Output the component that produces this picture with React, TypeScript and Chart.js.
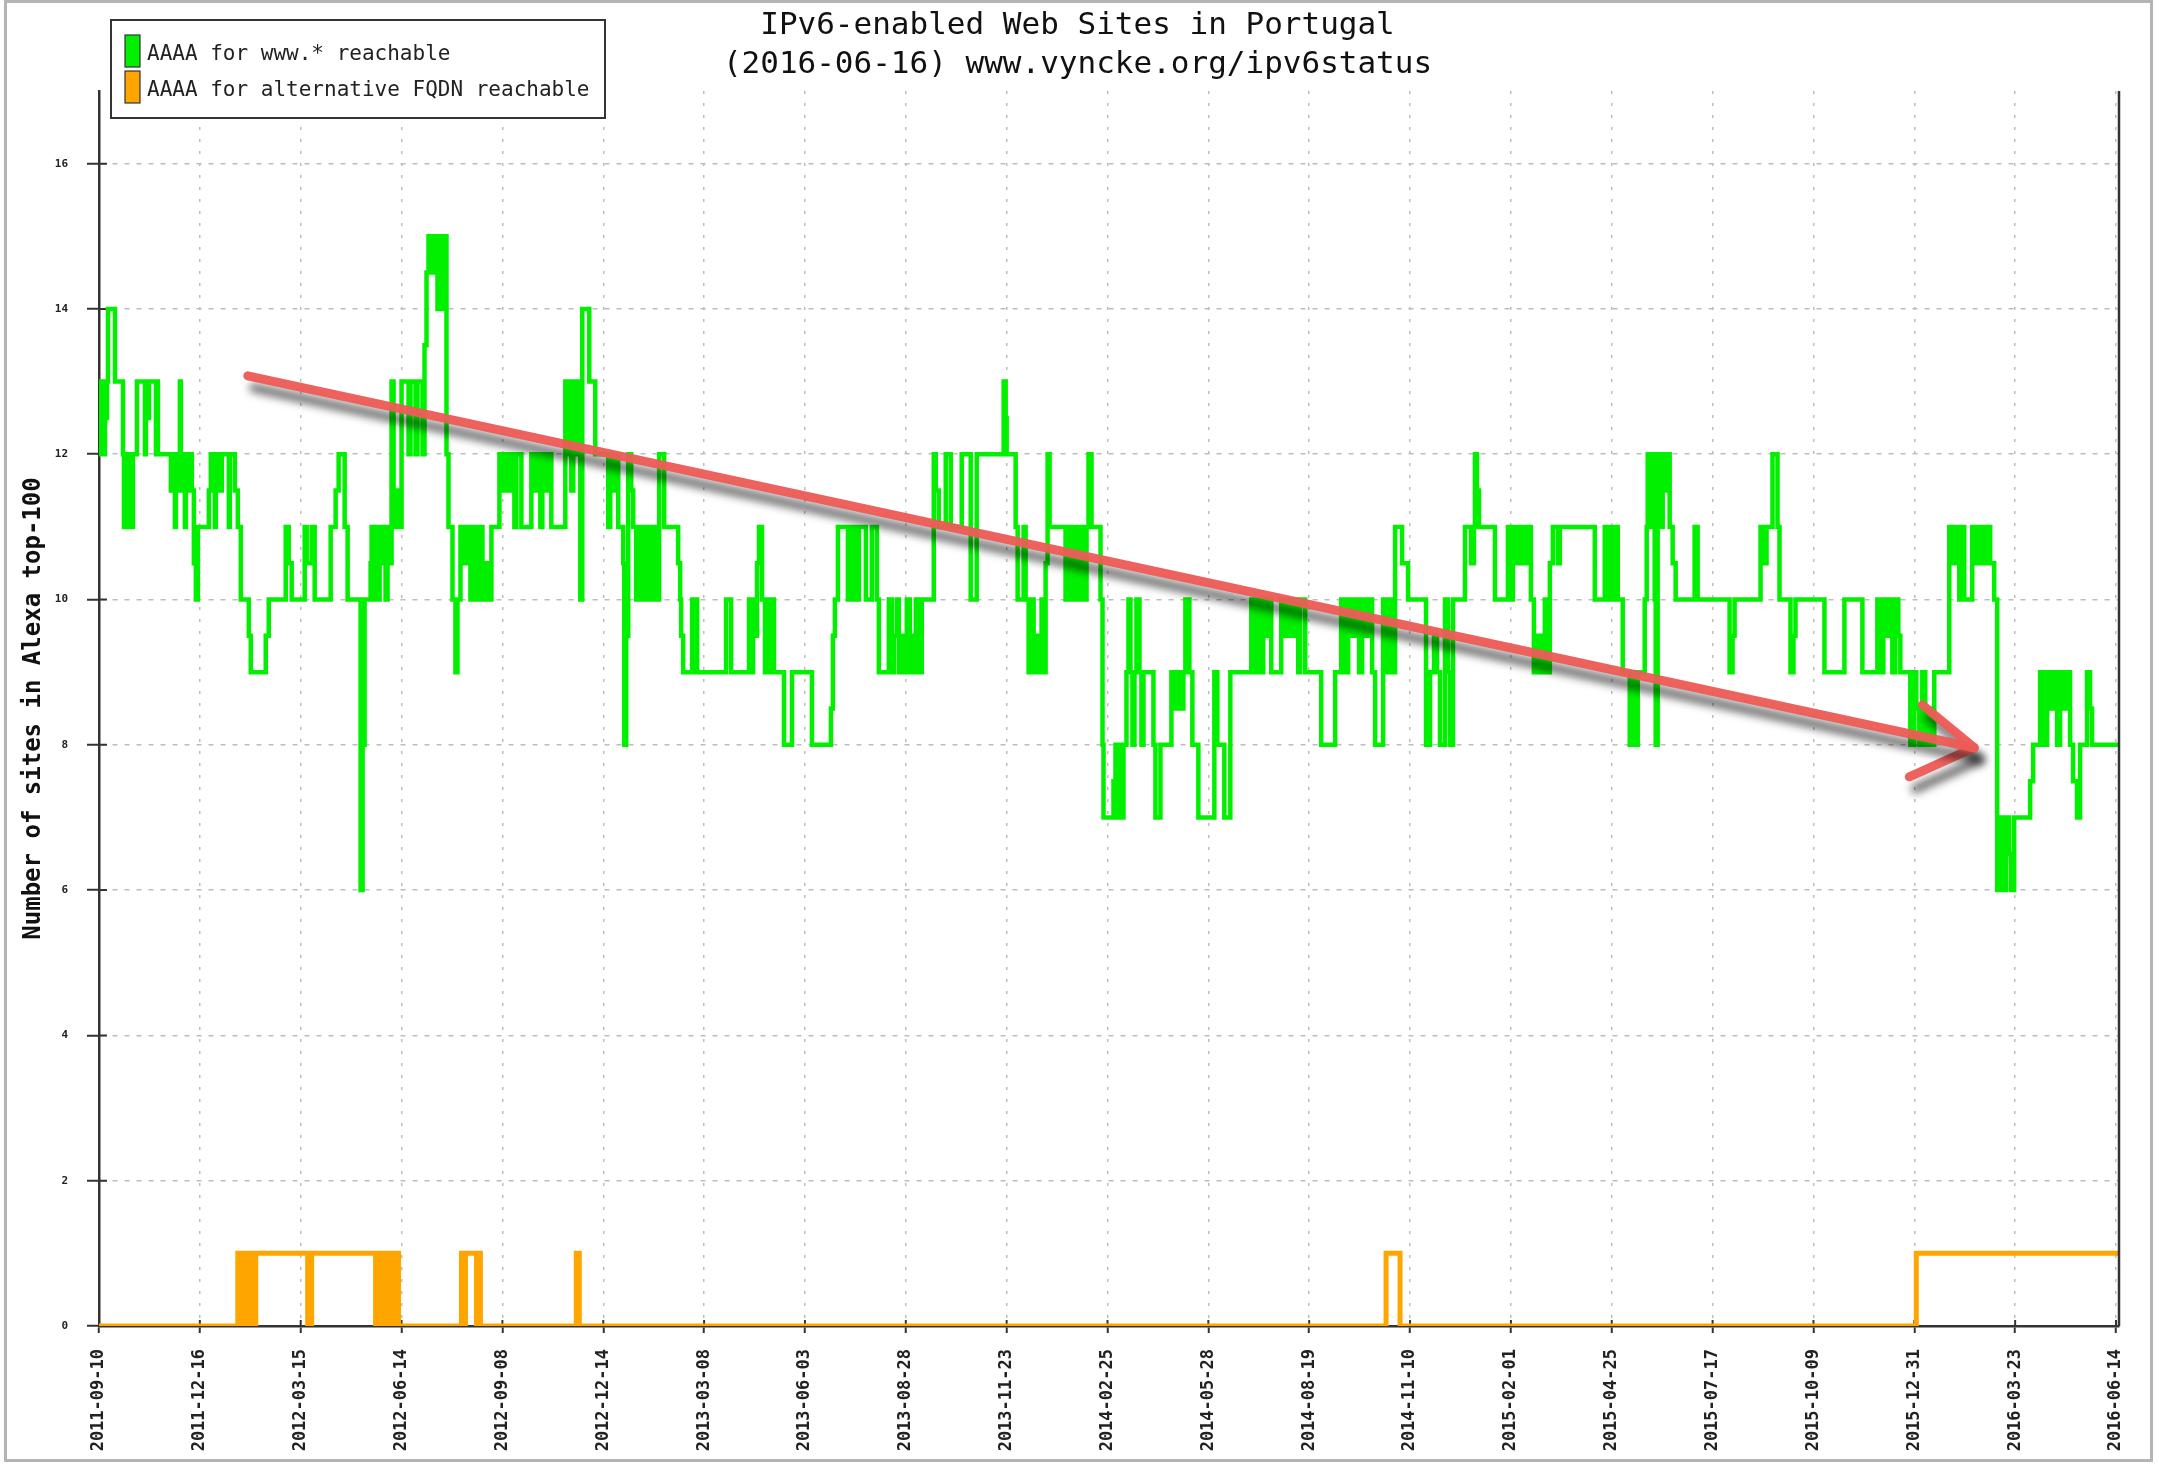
import React, { useEffect, useRef } from 'react';
import { Chart, registerables } from 'chart.js';

Chart.register(...registerables);

const TITLE_LINES = ['IPv6-enabled Web Sites in Portugal', '(2016-06-16) www.vyncke.org/ipv6status'];
const Y_TITLE = 'Number of sites in Alexa top-100';
const SERIES_LABELS = ['AAAA for www.* reachable', 'AAAA for alternative FQDN reachable'];

const X_TICK_LABELS = [
  '2011-09-10', '2011-12-16', '2012-03-15', '2012-06-14', '2012-09-08', '2012-12-14',
  '2013-03-08', '2013-06-03', '2013-08-28', '2013-11-23', '2014-02-25', '2014-05-28',
  '2014-08-19', '2014-11-10', '2015-02-01', '2015-04-25', '2015-07-17', '2015-10-09',
  '2015-12-31', '2016-03-23', '2016-06-14',
];
const Y_TICK_VALUES = [0, 2, 4, 6, 8, 10, 12, 14, 16];
const SAMPLES_PER_TICK = 101;
const X_MAX = 2023;
const Y_MAX = 17;

// [sample index, sites] step points (value holds until next point)
const WWW_POINTS: number[][] = [
  [0,12],[2,13],[4,12],[6,12.5],[8,13],[9,14],[16,13],[24,12],[25,11],[28,12],[32,11],[34,12],[38,13],[46,12],[47,13],[49,12.5],[50,13],[57,12],[58,13],[59,12],
  [72,11.5],[74,12],[76,11],[77,12],[79,11.5],[81,13],[82,12],[84,11.5],[86,11],[87,12],[89,11.5],[91,12],[93,11.5],[95,10.5],[97,10],[99,11],
  [110,11.5],[112,12],[116,11],[117,12],[121,11.5],[123,12],[130,11],[131,12],[136,11.5],[139,11],[142,10],[150,9.5],[152,9],[167,9.5],[170,10],
  [187,11],[190,10.5],[193,10],[206,11],[208,10.5],[213,11],[216,10],[232,11],[237,11.5],[240,12],[246,11],[249,10],[262,6],[264,8],[266,10],
  [272,10.5],[273,11],[275,10],[277,11],[279,10],[281,11],[283,10.5],[285,11],[287,10],[289,11],[291,10.5],[293,13],[295,11],[298,11.5],[300,11],
  [303,13],[310,12],[312,13],[317,12],[319,13],[324,12],[326,13.5],[328,14.5],[330,15],[334,14.5],[336,15],[339,14],[341,15],[344,14],[346,15],
  [348,12],[350,11],[354,10],[357,9],[359,10],[362,11],[366,10.5],[369,11],[372,10],[375,11],[378,10],[381,11],[384,10],[387,10.5],[390,10],[393,11],
  [401,12],[404,11.5],[407,12],[410,11.5],[413,12],[416,11],[418,12],[423,11],[433,12],[436,11.5],[439,12],[442,11],[444,12],[447,11.5],[450,12],[453,11],
  [467,13],[469,12],[471,13],[473,11.5],[475,13],[478,12],[480,13],[482,10],[484,14],[491,13],[497,12],[510,11],
  [512,12],[515,11.5],[518,12],[520,11],[525,10.5],[526,8],[528,9.5],[530,12],[533,11.5],[535,11],[538,10],[540,11],[543,10],[545,11],[548,10],[550,11],
  [553,10],[556,11],[559,10],[561,12],[566,11],[580,10.5],[582,10],[583,9.5],[585,9],[594,10],[596,9],[597,10],[599,9],[628,10],[633,9],
  [651,10],[653,9],[655,10],[657,9.5],[659,10.5],[661,11],[664,10],[667,9],[669,10],[672,9],[675,10],[676,9],[686,8],[694,9],[714,8],
  [733,8.5],[735,9.5],[737,10],[740,11],[750,10],[752,11],[755,10],[757,11],[759,10],[761,11],[768,10],[774,11],[779,10],[781,9],
  [791,10],[794,9],[796,9.5],[799,10],[801,9],[803,9.5],[806,9],[809,10],[812,9],[816,9.5],[818,10],[820,9],[824,10],
  [836,12],[838,11.5],[841,11],[848,12],[853,11],[864,12],[873,10],[879,12],[906,13],[908,12.5],[909,12],[918,11],[920,10],[926,11],[928,10],
  [931,9],[934,10],[936,9],[939,9.5],[941,9],[944,10],[946,9],[948,10.5],[950,12],[952,11],[968,10],[971,11],[974,10],[977,11],[980,10],
  [983,11],[986,10],[989,11],[991,12],[994,11],[1003,10],
  [1005,8],[1006,7],[1016,7.5],[1018,8],[1020,7],[1022,8],[1024,7],[1026,8],[1029,9],[1031,10],[1033,9],[1035,8],[1037,9],[1039,10],[1042,9],
  [1044,8],[1046,9],[1056,8],[1058,7],[1063,8],[1074,9],[1077,8.5],[1080,9],[1083,8.5],[1086,9],[1088,10],[1092,9],[1095,8],[1101,7],
  [1117,9],[1120,8],[1127,7],[1133,9],[1154,10],[1157,9],[1160,10],[1163,9],[1166,10],[1169,9.5],[1172,10],[1174,9],[1184,10],[1187,9.5],
  [1190,10],[1194,9.5],[1197,10],[1201,9],[1203,10],[1208,9],[1224,8],[1238,9],[1244,10],[1248,9],[1251,10],[1255,9.5],[1258,10],[1262,9],
  [1265,10],[1268,9.5],[1271,10],[1275,9],[1278,8],[1286,10],[1289,9],[1292,10],[1295,9],[1298,11],[1305,10.5],[1311,10],[1329,8],[1333,9],
  [1337,9.5],[1340,9],[1343,8],[1348,10],[1351,9],[1353,8],[1356,10],[1368,11],[1374,10.5],[1377,11],[1378,12],[1380,11.5],[1382,11],[1398,10],
  [1411,11],[1414,10],[1416,11],[1420,10.5],[1423,11],[1427,10.5],[1430,11],[1434,10],[1437,9],[1441,9.5],[1444,9],[1448,10],[1451,9],
  [1453,10.5],[1456,11],[1461,10.5],[1463,11],[1498,10],[1508,11],[1510,10],[1513,11],[1516,10],[1519,11],
  [1521,10],[1526,9],[1533,8],[1536,9],[1539,8],[1541,9],[1548,10],[1550,11],[1551,12],[1554,11],[1556,12],[1558,10],[1559,8],[1561,12],
  [1564,11],[1566,12],[1568,11.5],[1570,12],[1573,11],[1576,10.5],[1579,10],[1598,11],[1601,10],[1633,9],[1636,9.5],[1638,10],
  [1664,11],[1667,10.5],[1670,11],[1676,12],[1681,11],[1683,10],[1694,9],[1697,9.5],[1699,10],[1728,9],[1748,10],[1766,9],
  [1781,10],[1784,9],[1787,10],[1790,9.5],[1793,10],[1796,9],[1799,10],[1802,9.5],[1804,9],[1814,8],[1818,9],[1820,8.5],[1823,8],[1826,9],
  [1829,8],[1832,8.5],[1835,8],[1838,9],[1853,11],[1857,10.5],[1860,11],[1863,10],[1866,11],[1868,10],[1876,11],[1880,10.5],[1883,11],
  [1887,10.5],[1890,11],[1894,10.5],[1898,10],[1901,6],[1905,7],[1907,6],[1910,7],[1913,6.5],[1915,6],[1918,7],[1934,7.5],[1937,8],
  [1944,9],[1948,8],[1951,9],[1954,8.5],[1957,9],[1961,8],[1964,9],[1968,8.5],[1971,9],[1974,8],[1977,7.5],[1981,7],[1984,8],[1991,9],
  [1994,8.5],[1996,8],[2023,8],
];

const ALT_POINTS: number[][] = [
  [0,0],[139,1],[141,0],[144,1],[146,0],[149,1],[151,0],[154,1],[156,0],[157,1],[209,0],[213,1],
  [277,0],[279,1],[282,0],[285,1],[288,0],[291,1],[294,0],[297,1],[300,0],[363,1],[366,0],[367,1],[378,0],[380,1],[382,0],
  [478,1],[481,0],[1289,1],[1303,0],[1820,1],[2023,1],
];

// hand-drawn trend arrow (in data space)
const TREND_SHAFT: number[][] = [[149,13.08],[1878,7.96]];
const TREND_HEAD: number[][] = [[1826,8.55],[1878,7.96],[1813,7.56]];

const GREEN = '#00f000';
const ORANGE = '#ffa500';
const ARROW_RED = 'rgba(236,92,86,0.96)';
const MONO = '"DejaVu Sans Mono", monospace';

// value at x holds until the next x: convert to points where the step occurs at the new x
const toSteps = (pts: number[][]) => pts.map(([x, y]) => ({ x, y }));
const toXY = (pts: number[][]) => pts.map(([x, y]) => ({ x, y }));

const decor = {
  id: 'decor',
  beforeDraw(chart: any) {
    const { ctx, width, height } = chart;
    ctx.save();
    ctx.fillStyle = '#ffffff';
    ctx.fillRect(0, 0, width, height);
    ctx.strokeStyle = '#b4b4b4';
    ctx.lineWidth = 3;
    ctx.strokeRect(5.5, 1.5, width - 13, height - 6);
    ctx.restore();
  },
  beforeDatasetsDraw(chart: any) {
    const { ctx, chartArea: a, scales } = chart;
    ctx.save();
    ctx.strokeStyle = '#333';
    ctx.lineWidth = 2;
    ctx.beginPath();
    scales.y.ticks.forEach((t: any) => {
      const py = scales.y.getPixelForValue(t.value);
      ctx.moveTo(a.left, py);
      ctx.lineTo(a.left + 8, py);
    });
    scales.x.ticks.forEach((t: any) => {
      const px = scales.x.getPixelForValue(t.value);
      ctx.moveTo(px, a.bottom);
      ctx.lineTo(px, a.bottom - 6);
    });
    ctx.stroke();
    ctx.restore();
  },
  beforeDatasetDraw(chart: any, args: any) {
    const ds = chart.data.datasets[args.index];
    if (ds.isTrend) {
      const ctx = chart.ctx;
      ctx.save();
      ctx.shadowColor = 'rgba(0,0,0,0.6)';
      ctx.shadowBlur = 8;
      ctx.shadowOffsetX = 6;
      ctx.shadowOffsetY = 12;
    }
  },
  afterDatasetDraw(chart: any, args: any) {
    const ds = chart.data.datasets[args.index];
    if (ds.isTrend) chart.ctx.restore();
  },
  afterDraw(chart: any) {
    const { ctx, chartArea: a, width } = chart;
    ctx.save();
    // right frame line
    ctx.strokeStyle = '#333';
    ctx.lineWidth = 2.5;
    ctx.beginPath();
    ctx.moveTo(a.right, a.top);
    ctx.lineTo(a.right, a.bottom);
    ctx.stroke();
    // title
    ctx.fillStyle = '#111';
    ctx.font = '31px ' + MONO;
    ctx.textAlign = 'center';
    ctx.textBaseline = 'middle';
    ctx.fillText(TITLE_LINES[0], width / 2 - 2, 26);
    ctx.fillText(TITLE_LINES[1], width / 2 - 2, 65);
    // legend
    ctx.fillStyle = '#ffffff';
    ctx.fillRect(111, 20, 494, 98);
    ctx.strokeStyle = '#333';
    ctx.lineWidth = 2;
    ctx.strokeRect(111, 20, 494, 98);
    const entries = chart.data.datasets.filter((d: any) => !d.isTrend);
    entries.forEach((d: any, i: number) => {
      const sy = 35 + 36 * i;
      ctx.fillStyle = d.borderColor;
      ctx.fillRect(125, sy, 15, 32);
      ctx.strokeStyle = '#333';
      ctx.lineWidth = 1.2;
      ctx.strokeRect(125, sy, 15, 32);
      ctx.fillStyle = '#222';
      ctx.font = '21px ' + MONO;
      ctx.textAlign = 'left';
      ctx.textBaseline = 'middle';
      ctx.fillText(d.label, 147, sy + 20);
    });
    ctx.restore();
  },
};

export default function App() {
  const ref = useRef<HTMLCanvasElement>(null);
  useEffect(() => {
    document.body.style.margin = '0';
    const canvas = ref.current as HTMLCanvasElement;
    const chart = new Chart(canvas, {
      type: 'line',
      data: {
        datasets: [
          { label: 'trend', isTrend: true, data: toXY(TREND_SHAFT), borderColor: ARROW_RED, borderWidth: 9, pointRadius: 0, borderCapStyle: 'round', order: 0 } as any,
          { label: 'trend-head', isTrend: true, data: toXY(TREND_HEAD), borderColor: ARROW_RED, borderWidth: 9, pointRadius: 0, borderCapStyle: 'round', borderJoinStyle: 'round', order: 0 } as any,
          { label: SERIES_LABELS[0], data: toSteps(WWW_POINTS), stepped: 'before', borderColor: GREEN, borderWidth: 4.5, pointRadius: 0, borderJoinStyle: 'miter', order: 1 } as any,
          { label: SERIES_LABELS[1], data: toSteps(ALT_POINTS), stepped: 'before', borderColor: ORANGE, borderWidth: 5, pointRadius: 0, borderJoinStyle: 'miter', order: 2 } as any,
        ],
      },
      options: {
        animation: false,
        responsive: false,
        devicePixelRatio: 1,
        layout: { padding: { left: 0, right: 40, top: 91, bottom: 0 } },
        plugins: { legend: { display: false }, title: { display: false }, tooltip: { enabled: false } },
        scales: {
          x: {
            type: 'linear',
            min: 0,
            max: X_MAX,
            afterBuildTicks: (s: any) => { s.ticks = X_TICK_LABELS.map((_, i) => ({ value: i * SAMPLES_PER_TICK })); },
            afterFit: (s: any) => { s.height = 139; },
            ticks: {
              autoSkip: false,
              maxRotation: 90,
              minRotation: 90,
              padding: 16,
              color: '#222',
              font: { family: MONO, size: 17, weight: 'bold' },
              callback: (_v: any, i: number) => X_TICK_LABELS[i],
            },
            grid: { color: '#bdbdbd', lineWidth: 1.5, tickLength: 7, tickColor: '#333', tickWidth: 2 },
            border: { display: true, color: '#333', width: 2.5, dash: [3, 9] },
          },
          y: {
            type: 'linear',
            min: 0,
            max: Y_MAX,
            afterBuildTicks: (s: any) => { s.ticks = Y_TICK_VALUES.map((v) => ({ value: v })); },
            afterFit: (s: any) => { s.width = 99; },
            ticks: { padding: 19, color: '#222', font: { family: MONO, size: 11, weight: 'bold' } },
            grid: { color: '#bdbdbd', lineWidth: 1.5, tickLength: 12, tickColor: '#333', tickWidth: 2 },
            border: { display: true, color: '#333', width: 2.5, dash: [5, 7] },
            title: {
              display: true,
              text: Y_TITLE,
              color: '#111',
              font: { family: MONO, size: 24, weight: 'bold', lineHeight: 1.2 },
              padding: { top: 19, bottom: 0 },
            },
          },
        },
      } as any,
      plugins: [decor as any],
    });
    return () => chart.destroy();
  }, []);
  return <canvas ref={ref} width={2159} height={1465} style={{ display: 'block' }} />;
}
